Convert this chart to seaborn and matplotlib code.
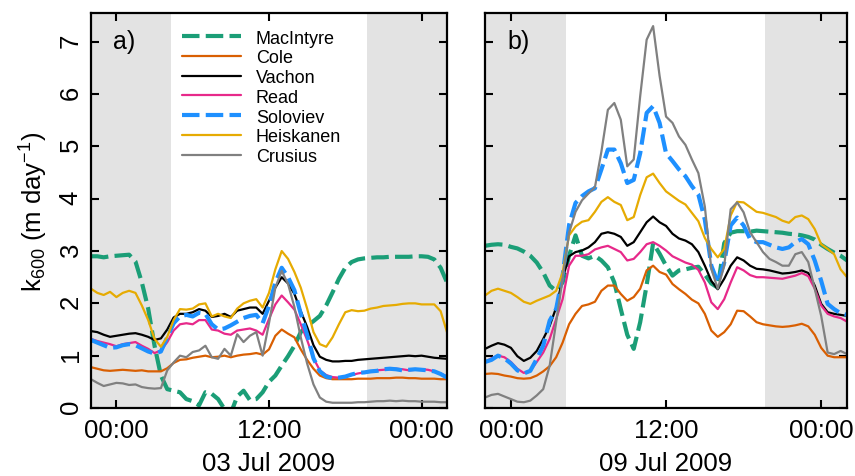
import numpy as np
import pandas as pd
import matplotlib
matplotlib.use("Agg")
import matplotlib.pyplot as plt
import matplotlib.dates as mdates
import seaborn as sns

# half-hourly readings, hours relative to midnight of the plotted day
hours = [-2.0, -1.5, -1.0, -0.5, 0.0, 0.5, 1.0,
         1.5, 2.0, 2.5, 3.0, 3.5, 4.0, 4.5,
         5.0, 5.5, 6.0, 6.5, 7.0, 7.5, 8.0,
         8.5, 9.0, 9.5, 10.0, 10.5, 11.0, 11.5,
         12.0, 12.5, 13.0, 13.5, 14.0, 14.5, 15.0,
         15.5, 16.0, 16.5, 17.0, 17.5, 18.0, 18.5,
         19.0, 19.5, 20.0, 20.5, 21.0, 21.5, 22.0,
         22.5, 23.0, 23.5, 24.0, 24.5, 25.0, 25.5,
         26.0]

# panel a) 03 Jul 2009
mac_a = [2.90, 2.90, 2.88, 2.90, 2.91, 2.92, 2.93,
         2.80, 2.40, 1.90, 1.19, 0.62, 0.36, 0.33,
         0.30, 0.17, 0.13, 0.05, 0.30, 0.27, 0.17,
         -0.02, -0.10, 0.22, 0.33, 0.15, 0.17, 0.30,
         0.50, 0.62, 0.81, 0.99, 1.19, 1.45, 1.57,
         1.66, 1.76, 1.96, 2.21, 2.47, 2.68, 2.79,
         2.84, 2.86, 2.87, 2.88, 2.88, 2.89, 2.89,
         2.89, 2.89, 2.90, 2.90, 2.89, 2.84, 2.68,
         2.40]
cole_a = [0.78, 0.75, 0.72, 0.71, 0.72, 0.73, 0.72,
          0.71, 0.72, 0.70, 0.70, 0.70, 0.76, 0.86,
          0.92, 0.93, 0.96, 0.98, 1.00, 0.97, 0.98,
          1.00, 0.97, 1.00, 1.02, 1.03, 1.05, 1.02,
          1.12, 1.38, 1.50, 1.42, 1.35, 1.12, 0.92,
          0.75, 0.62, 0.57, 0.55, 0.55, 0.55, 0.55,
          0.56, 0.56, 0.56, 0.57, 0.57, 0.57, 0.58,
          0.58, 0.57, 0.57, 0.56, 0.56, 0.56, 0.55,
          0.55]
vachon_a = [1.47, 1.45, 1.40, 1.36, 1.38, 1.40, 1.42,
            1.43, 1.40, 1.36, 1.30, 1.33, 1.50, 1.73,
            1.80, 1.80, 1.83, 1.89, 1.86, 1.74, 1.76,
            1.80, 1.74, 1.86, 1.89, 1.92, 1.92, 1.80,
            2.05, 2.30, 2.50, 2.38, 2.18, 1.85, 1.55,
            1.20, 0.98, 0.92, 0.89, 0.89, 0.90, 0.90,
            0.92, 0.93, 0.94, 0.95, 0.96, 0.97, 0.98,
            0.99, 1.00, 0.99, 1.00, 0.98, 0.96, 0.95,
            0.94]
read_a = [1.32, 1.28, 1.25, 1.22, 1.18, 1.22, 1.24,
          1.26, 1.19, 1.13, 1.05, 1.10, 1.26, 1.48,
          1.60, 1.62, 1.60, 1.68, 1.68, 1.50, 1.48,
          1.42, 1.40, 1.48, 1.50, 1.52, 1.48, 1.40,
          1.70, 1.98, 2.15, 2.02, 1.88, 1.60, 1.30,
          0.95, 0.72, 0.63, 0.59, 0.58, 0.60, 0.63,
          0.66, 0.68, 0.70, 0.72, 0.73, 0.74, 0.75,
          0.74, 0.72, 0.73, 0.74, 0.73, 0.70, 0.66,
          0.60]
solo_a = [1.30, 1.25, 1.20, 1.15, 1.16, 1.20, 1.22,
          1.20, 1.14, 1.08, 1.04, 1.08, 1.35, 1.62,
          1.75, 1.78, 1.75, 1.82, 1.80, 1.60, 1.50,
          1.52, 1.58, 1.65, 1.72, 1.76, 1.78, 1.62,
          1.95, 2.40, 2.68, 2.50, 2.25, 1.80, 1.40,
          0.95, 0.70, 0.60, 0.57, 0.58, 0.60, 0.64,
          0.67, 0.68, 0.70, 0.71, 0.74, 0.75, 0.74,
          0.72, 0.73, 0.74, 0.73, 0.72, 0.70, 0.65,
          0.58]
heis_a = [2.28, 2.20, 2.16, 2.22, 2.12, 2.20, 2.24,
          2.20, 1.96, 1.68, 1.32, 1.17, 1.36, 1.68,
          1.89, 1.88, 1.90, 1.98, 2.00, 1.75, 1.80,
          1.75, 1.72, 1.90, 2.00, 2.05, 2.08, 1.92,
          2.20, 2.65, 3.00, 2.85, 2.60, 2.30, 1.90,
          1.45, 1.22, 1.17, 1.35, 1.60, 1.83, 1.87,
          1.85, 1.86, 1.90, 1.92, 1.95, 1.96, 1.97,
          1.99, 2.00, 2.00, 1.98, 1.98, 1.98, 1.85,
          1.45]
crus_a = [0.55, 0.48, 0.42, 0.45, 0.48, 0.47, 0.44,
          0.45, 0.40, 0.38, 0.37, 0.38, 0.72, 0.87,
          1.00, 0.97, 1.07, 1.10, 1.19, 0.97, 0.94,
          1.13, 1.00, 1.41, 1.26, 1.38, 1.45, 1.00,
          1.62, 2.30, 2.62, 2.37, 1.93, 1.35, 0.85,
          0.45, 0.20, 0.12, 0.10, 0.10, 0.10, 0.10,
          0.11, 0.11, 0.12, 0.13, 0.13, 0.14, 0.13,
          0.14, 0.13, 0.13, 0.12, 0.12, 0.12, 0.11,
          0.11]

# panel b) 09 Jul 2009
mac_b = [3.10, 3.12, 3.13, 3.12, 3.08, 3.05, 2.99,
         2.91, 2.78, 2.59, 2.34, 2.24, 2.40, 2.91,
         3.30, 2.91, 2.86, 2.91, 2.82, 2.69, 2.40,
         1.89, 1.40, 1.13, 1.64, 2.35, 3.15, 2.95,
         2.72, 2.53, 2.63, 2.65, 2.68, 2.70, 2.55,
         2.38, 2.30, 3.15, 3.35, 3.38, 3.38, 3.37,
         3.39, 3.38, 3.37, 3.36, 3.35, 3.33, 3.32,
         3.30, 3.27, 3.22, 3.12, 3.04, 2.97, 2.91,
         2.82]
cole_b = [0.65, 0.66, 0.65, 0.62, 0.60, 0.57, 0.56,
          0.57, 0.62, 0.70, 0.80, 0.97, 1.25, 1.60,
          1.80, 1.95, 1.98, 2.03, 2.24, 2.34, 2.34,
          2.18, 2.05, 2.12, 2.28, 2.63, 2.72, 2.60,
          2.55, 2.37, 2.27, 2.18, 2.07, 2.00, 1.80,
          1.48, 1.36, 1.45, 1.60, 1.86, 1.85, 1.75,
          1.64, 1.60, 1.58, 1.56, 1.55, 1.56, 1.58,
          1.61, 1.56, 1.40, 1.15, 1.00, 0.97, 0.97,
          0.97]
vachon_b = [1.13, 1.19, 1.24, 1.21, 1.15, 0.99, 0.90,
            0.96, 1.09, 1.32, 1.57, 1.92, 2.47, 2.90,
            2.98, 3.01, 3.07, 3.17, 3.33, 3.36, 3.33,
            3.27, 3.10, 3.17, 3.36, 3.55, 3.66, 3.55,
            3.48, 3.33, 3.24, 3.20, 3.13, 2.98, 2.72,
            2.43, 2.27, 2.47, 2.72, 2.88, 2.82, 2.72,
            2.66, 2.65, 2.63, 2.60, 2.57, 2.58, 2.60,
            2.63, 2.58, 2.34, 1.99, 1.83, 1.80, 1.78,
            1.76]
read_b = [0.88, 0.95, 1.00, 0.97, 0.88, 0.75, 0.67,
          0.71, 0.88, 1.06, 1.32, 1.70, 2.08, 2.72,
          2.91, 2.91, 2.94, 3.03, 3.07, 3.10, 3.04,
          2.98, 2.82, 2.85, 2.98, 3.13, 3.17, 3.10,
          3.01, 2.90, 2.84, 2.78, 2.74, 2.64, 2.40,
          2.02, 1.89, 2.08, 2.40, 2.69, 2.63, 2.54,
          2.50, 2.50, 2.49, 2.48, 2.47, 2.50, 2.53,
          2.58, 2.52, 2.28, 1.96, 1.80, 1.75, 1.72,
          1.65]
solo_b = [0.88, 0.92, 1.00, 0.95, 0.85, 0.72, 0.66,
          0.71, 0.94, 1.19, 1.67, 1.89, 2.53, 3.50,
          3.92, 4.05, 4.14, 4.20, 4.56, 4.94, 4.94,
          4.68, 4.30, 4.36, 4.87, 5.64, 5.77, 5.45,
          4.87, 4.72, 4.56, 4.43, 4.24, 4.08, 3.60,
          2.72, 2.40, 2.78, 3.49, 3.64, 3.49, 3.23,
          3.17, 3.17, 3.12, 3.07, 3.04, 3.07, 3.17,
          3.23, 3.13, 2.82, 2.43, 1.99, 1.89, 1.81,
          1.78]
heis_b = [2.15, 2.24, 2.28, 2.24, 2.20, 2.12, 2.03,
          1.99, 2.05, 2.10, 2.15, 2.24, 2.59, 3.30,
          3.47, 3.56, 3.59, 3.75, 3.94, 4.03, 3.94,
          3.88, 3.59, 3.65, 4.07, 4.41, 4.48, 4.30,
          4.14, 4.05, 3.96, 3.89, 3.73, 3.57, 3.25,
          3.04, 2.88, 3.04, 3.68, 3.94, 3.93, 3.84,
          3.75, 3.73, 3.69, 3.65, 3.58, 3.54, 3.65,
          3.68, 3.61, 3.42, 3.13, 3.04, 2.94, 2.65,
          2.50]
crus_b = [0.20, 0.25, 0.27, 0.22, 0.17, 0.12, 0.11,
          0.14, 0.24, 0.36, 0.81, 1.64, 2.47, 3.35,
          3.75, 3.97, 4.10, 4.22, 4.90, 5.70, 5.83,
          5.51, 4.62, 4.75, 5.96, 7.04, 7.30, 6.35,
          5.57, 5.45, 5.19, 5.03, 4.75, 4.49, 3.85,
          2.66, 2.28, 2.72, 3.80, 3.93, 3.74, 3.36,
          3.17, 2.98, 2.85, 2.79, 2.72, 2.72, 2.94,
          2.98, 2.79, 2.28, 1.76, 1.06, 1.03, 1.09,
          1.03]

models = ["MacIntyre", "Cole", "Vachon", "Read", "Soloviev", "Heiskanen", "Crusius"]
colors = ["#1b9e77", "#d95f02", "#000000", "#e7298a", "#1e90ff", "#e6ab02", "#808080"]
dashed = ["MacIntyre", "Soloviev"]

# night periods (hours)
night = [(-2.0, 4.3), (19.67, 26.0)]


def make_frame(day, series):
    t0 = pd.Timestamp(day)
    times = t0 + pd.to_timedelta(hours, unit="h")
    parts = []
    for name, vals in zip(models, series):
        parts.append(pd.DataFrame({"time": times, "k600": vals, "model": name}))
    return pd.concat(parts, ignore_index=True)


sns.set_style("ticks")
plt.rcParams["font.family"] = ["Liberation Sans", "DejaVu Sans"]
plt.rcParams["mathtext.default"] = "regular"
for key in ["text.color", "axes.labelcolor", "xtick.color", "ytick.color", "axes.edgecolor"]:
    plt.rcParams[key] = "black"
plt.rcParams["axes.linewidth"] = 1.6

fig = plt.figure(figsize=(8.55, 4.77), dpi=100)
ax_a = fig.add_axes([0.1064, 0.1426, 0.4164, 0.828])
ax_b = fig.add_axes([0.5673, 0.1426, 0.4234, 0.828])

panels = [
    (ax_a, "2009-07-03", [mac_a, cole_a, vachon_a, read_a, solo_a, heis_a, crus_a], "a)", "03 Jul 2009"),
    (ax_b, "2009-07-09", [mac_b, cole_b, vachon_b, read_b, solo_b, heis_b, crus_b], "b)", "09 Jul 2009"),
]

for ax, day, series, tag, xlab in panels:
    df = make_frame(day, series)
    t0 = pd.Timestamp(day)
    for start, end in night:
        ax.axvspan(t0 + pd.Timedelta(hours=start), t0 + pd.Timedelta(hours=end),
                   color="#e3e3e3", lw=0, zorder=0)
    for name, col in zip(models, colors):
        sub = df[df["model"] == name]
        if name in dashed:
            sns.lineplot(data=sub, x="time", y="k600", ax=ax, color=col, lw=3.0,
                         dashes=(4.2, 1.5), label=name, legend=False)
        else:
            sns.lineplot(data=sub, x="time", y="k600", ax=ax, color=col, lw=1.6,
                         label=name, legend=False)

    ax.set_xlim(t0 - pd.Timedelta(hours=2), t0 + pd.Timedelta(hours=26))
    ax.set_ylim(0, 7.55)
    ax.set_yticks(range(0, 8))
    ax.xaxis.set_major_locator(mdates.HourLocator(byhour=[0, 12]))
    ax.xaxis.set_major_formatter(mdates.DateFormatter("%H:%M"))
    ax.tick_params(direction="in", length=6, width=1.5, top=True, right=True,
                   labelsize=18.5, pad=7, colors="black")
    ax.tick_params(axis="y", labelrotation=90, pad=6)
    ax.set_xlabel(xlab, fontsize=18.5, labelpad=7)
    ax.set_ylabel("")
    ax.text(0.062, 0.93, tag, transform=ax.transAxes, fontsize=18,
            ha="left", va="center")
    for sp in ax.spines.values():
        sp.set_linewidth(1.6)
        sp.set_color("black")

ax_a.set_ylabel("k$_{600}$ (m day$^{-1}$)", fontsize=18.5, labelpad=6)
ax_b.tick_params(labelleft=False)

handles = ax_a.get_lines()[:len(models)]
ax_a.legend(handles, models, loc="upper left", bbox_to_anchor=(0.245, 0.967),
            frameon=False, fontsize=13, handlelength=3.3, handletextpad=0.8,
            labelspacing=0.15, borderpad=0.2, borderaxespad=0)

fig.savefig("out.png", dpi=100)
